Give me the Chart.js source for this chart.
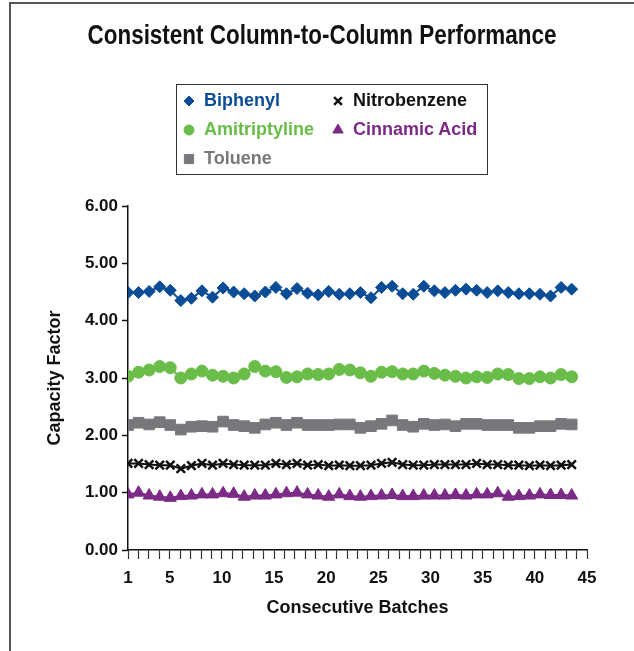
<!DOCTYPE html>
<html>
<head>
<meta charset="utf-8">
<script src="https://cdn.jsdelivr.net/npm/chart.js@4.4.1/dist/chart.umd.min.js"></script>
<style>
  html, body { margin: 0; padding: 0; background: #fff; }
  #wrap { position: relative; width: 634px; height: 651px; overflow: hidden; }
  #frame { position: absolute; left: 9px; top: 2px; width: 700px; height: 700px;
           border-left: 2px solid #555; border-top: 2px solid #555; }
  #legend { position: absolute; left: 176px; top: 84px; width: 312px; height: 91px;
            box-sizing: border-box; border: 1.5px solid #333; padding: 1px 0 0 4px;
            display: grid; grid-template-columns: 149px auto; grid-auto-rows: 29px;
            font: bold 18px 'Liberation Sans', Arial, sans-serif; }
  #legend .item { display: flex; align-items: center; white-space: nowrap; }
  #legend canvas { width: 16px; height: 16px; margin-right: 7px; }
</style>
</head>
<body>
<div id="wrap">
  <canvas id="chart" width="634" height="651"></canvas>
  <div id="frame"></div>
  <div id="legend"></div>
</div>
<script>
const chartTitle = "Consistent Column-to-Column Performance";
const batches = [1, 2, 3, 4, 5, 6, 7, 8, 9, 10, 11, 12, 13, 14, 15, 16, 17, 18, 19, 20, 21, 22,
  23, 24, 25, 26, 27, 28, 29, 30, 31, 32, 33, 34, 35, 36, 37, 38, 39, 40, 41, 42, 43];
const xTickLabels = [1, 5, 10, 15, 20, 25, 30, 35, 40, 45];

const biphenyl = [4.49, 4.49, 4.51, 4.59, 4.53, 4.35, 4.39, 4.52, 4.41, 4.57, 4.50, 4.47, 4.43,
  4.50, 4.58, 4.47, 4.56, 4.48, 4.45, 4.51, 4.46, 4.47, 4.49, 4.40, 4.58, 4.60, 4.47, 4.46, 4.60,
  4.52, 4.49, 4.53, 4.55, 4.53, 4.49, 4.52, 4.49, 4.47, 4.47, 4.46, 4.43, 4.58, 4.55];
const nitrobenzene = [1.51, 1.51, 1.49, 1.48, 1.48, 1.42, 1.47, 1.51, 1.48, 1.51, 1.49, 1.48, 1.48,
  1.48, 1.51, 1.49, 1.51, 1.48, 1.49, 1.47, 1.48, 1.47, 1.47, 1.48, 1.51, 1.53, 1.49, 1.48, 1.48,
  1.49, 1.49, 1.49, 1.49, 1.51, 1.49, 1.49, 1.48, 1.48, 1.47, 1.48, 1.47, 1.48, 1.49];
const amitriptyline = [3.03, 3.10, 3.14, 3.20, 3.18, 3.00, 3.07, 3.12, 3.05, 3.03, 3.00, 3.07, 3.20,
  3.12, 3.11, 3.01, 3.02, 3.07, 3.06, 3.07, 3.15, 3.14, 3.09, 3.03, 3.10, 3.11, 3.07, 3.07, 3.12,
  3.08, 3.05, 3.03, 3.00, 3.02, 3.01, 3.07, 3.06, 2.99, 2.99, 3.02, 3.00, 3.06, 3.02];
const cinnamicAcid = [0.97, 1.00, 0.95, 0.93, 0.91, 0.94, 0.95, 0.97, 0.97, 0.99, 0.98, 0.93, 0.95,
  0.95, 0.97, 0.99, 1.00, 0.97, 0.95, 0.93, 0.97, 0.94, 0.93, 0.94, 0.95, 0.96, 0.94, 0.94, 0.95,
  0.95, 0.95, 0.96, 0.95, 0.97, 0.97, 0.99, 0.93, 0.94, 0.95, 0.97, 0.96, 0.96, 0.95];
const toluene = [2.18, 2.22, 2.19, 2.23, 2.18, 2.10, 2.15, 2.16, 2.15, 2.24, 2.18, 2.16, 2.13,
  2.19, 2.22, 2.18, 2.22, 2.18, 2.18, 2.18, 2.19, 2.19, 2.13, 2.16, 2.20, 2.26, 2.18, 2.15, 2.20,
  2.18, 2.19, 2.16, 2.20, 2.20, 2.18, 2.18, 2.18, 2.13, 2.13, 2.16, 2.16, 2.20, 2.19];

const font = "'Liberation Sans', Arial, sans-serif";

function series(label, values, color, style, radius, bw) {
  return {
    label: label,
    data: batches.map((b, i) => ({ x: b, y: values[i] })),
    xAxisID: "xd",
    yAxisID: "y",
    borderColor: color,
    backgroundColor: color,
    borderWidth: 2,
    pointStyle: style,
    pointRadius: radius,
    pointBorderWidth: bw,
    pointBackgroundColor: color,
    pointBorderColor: color,
    tension: 0,
  };
}

const datasets = [
  series("Biphenyl", biphenyl, "#0a4c96", "rectRot", 6, 1),
  series("Nitrobenzene", nitrobenzene, "#111111", "crossRot", 6, 2.5),
  series("Amitriptyline", amitriptyline, "#69bd48", "circle", 6, 1),
  series("Cinnamic Acid", cinnamicAcid, "#7b2a86", "triangle", 7, 1),
  series("Toluene", toluene, "#77787b", "rect", 7.5, 1),
];

// the heading uses a narrow bold face; no narrow font is installed, so squeeze a normal one
const narrowTitle = {
  id: "narrowTitle",
  afterDraw(chart) {
    const ctx = chart.ctx;
    ctx.save();
    ctx.font = "bold 27px " + font;
    ctx.fillStyle = "#111";
    ctx.textAlign = "center";
    ctx.textBaseline = "middle";
    const w = ctx.measureText(chartTitle).width;
    ctx.translate(322, 37);
    ctx.scale(469 / w, 1);
    ctx.fillText(chartTitle, 0, 0);
    ctx.restore();
  },
};

const chart = new Chart(document.getElementById("chart").getContext("2d"), {
  type: "line",
  data: { datasets: datasets },
  plugins: [narrowTitle],
  options: {
    responsive: false,
    animation: false,
    layout: { padding: { top: 206, left: 10, right: 0, bottom: 20 } },
    plugins: {
      legend: { display: false },
      tooltip: { enabled: false },
      title: { display: false },
    },
    scales: {
      x: {
        type: "linear",
        position: "bottom",
        min: 1,
        max: 45,
        afterFit: (s) => { s.height = 81; },
        border: { color: "#111", width: 1.5 },
        grid: { drawOnChartArea: false, tickLength: 9, tickColor: "#333", tickWidth: 1.2 },
        ticks: {
          stepSize: 1,
          autoSkip: false,
          maxRotation: 0,
          padding: 9,
          color: "#111",
          font: { family: font, size: 17, weight: "bold" },
          callback: (v) => (xTickLabels.includes(v) ? String(v) : ""),
        },
        title: {
          display: true,
          text: "Consecutive Batches",
          color: "#111",
          font: { family: font, size: 18, weight: "bold" },
          padding: { top: 0, bottom: 12 },
        },
      },
      xd: { type: "linear", axis: "x", position: "bottom", display: false, min: 1, max: 44.45 },
      y: {
        type: "linear",
        position: "left",
        min: 0,
        max: 6,
        afterFit: (s) => { s.width = 118; },
        border: { color: "#111", width: 1.5 },
        grid: { drawOnChartArea: false, tickLength: 6, tickColor: "#111", tickWidth: 1.5 },
        ticks: {
          stepSize: 1,
          padding: 4,
          color: "#111",
          font: { family: font, size: 17, weight: "bold" },
          callback: (v) => v.toFixed(2),
        },
        title: {
          display: true,
          text: "Capacity Factor",
          color: "#111",
          font: { family: font, size: 18, weight: "bold" },
          padding: { top: 34, bottom: 0 },
        },
      },
      yr: {
        type: "linear",
        position: "right",
        afterFit: (s) => { s.width = 47; },
        border: { display: false },
        grid: { display: false },
        ticks: { display: false },
      },
    },
  },
});

// legend box built from the chart datasets
const legendRadius = { rectRot: 5, crossRot: 5.5, circle: 5, triangle: 6, rect: 6.5 };
const legendEl = document.getElementById("legend");
chart.data.datasets.forEach((ds) => {
  const item = document.createElement("div");
  item.className = "item";
  const c = document.createElement("canvas");
  c.width = 16;
  c.height = 16;
  const ctx = c.getContext("2d");
  ctx.fillStyle = ds.pointBackgroundColor;
  ctx.strokeStyle = ds.pointBorderColor;
  ctx.lineWidth = ds.pointBorderWidth;
  Chart.helpers.drawPoint(ctx, {
    pointStyle: ds.pointStyle,
    radius: legendRadius[ds.pointStyle],
    borderWidth: ds.pointBorderWidth,
    rotation: 0,
  }, 8, 8);
  const txt = document.createElement("span");
  txt.textContent = ds.label;
  txt.style.color = ds.borderColor;
  item.appendChild(c);
  item.appendChild(txt);
  legendEl.appendChild(item);
});
</script>
</body>
</html>
